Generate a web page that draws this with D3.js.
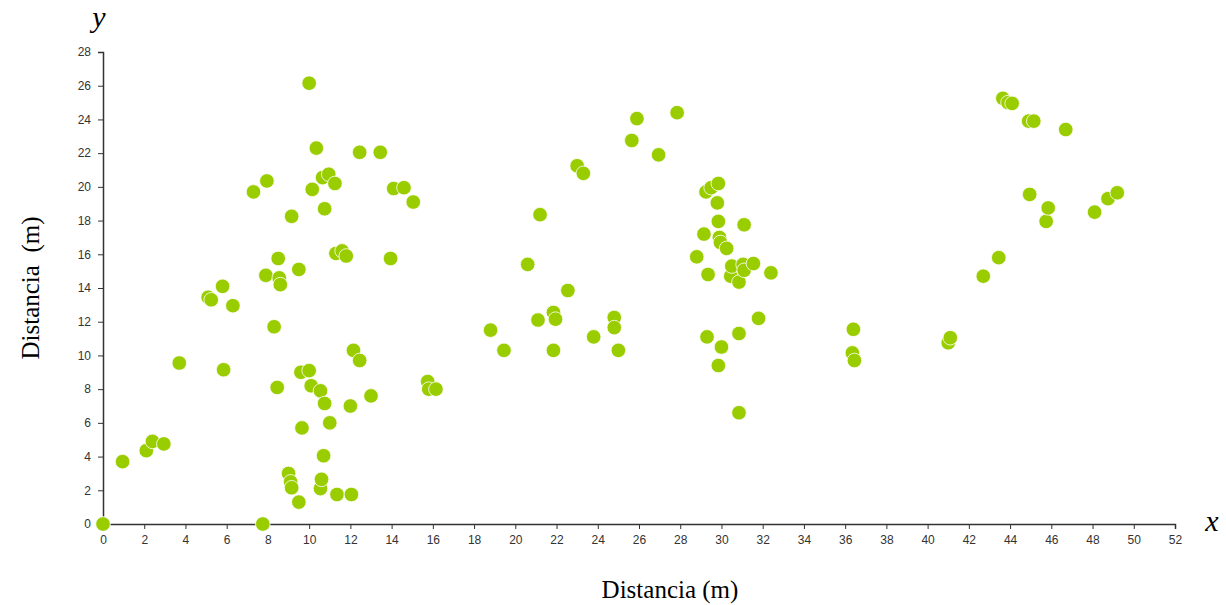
<!DOCTYPE html>
<html>
<head>
<meta charset="utf-8">
<script src="https://cdn.jsdelivr.net/npm/d3@7"></script>
<style>
  body { margin: 0; background: #fff; }
  .tick text { font-family: "Liberation Sans", Arial, sans-serif; font-size: 12px; fill: #333; }
  .domain, .tick line { stroke: #333; }
  .title { font-family: "Liberation Serif", "Times New Roman", serif; fill: #000; }
</style>
</head>
<body>
<div id="chart"></div>
<script>
// tick values
var xTicks = d3.range(0, 53, 2);
var yTicks = d3.range(0, 29, 2);

// point positions (distance in m)
var xValues = [
    0, 0.95, 2.1, 2.4, 2.95, 3.7, 5.1, 5.25, 5.8, 6.3, 5.85, 7.3, 7.95, 7.9, 8.3, 8.45, 7.75,
    8.5, 8.55, 8.6, 9.0, 9.1, 9.15, 9.5, 9.15, 9.5, 9.6, 9.65, 10.0, 10.0, 10.1, 10.15, 10.35,
    10.55, 10.6, 10.55, 10.65, 10.7, 10.75, 10.75, 10.95, 11.0, 11.25, 11.3, 11.35, 11.6, 11.8,
    12.0, 12.05, 12.15, 12.45, 12.45, 13.0, 13.45, 13.95, 14.1, 14.6, 15.05, 15.75, 15.8, 16.15,
    18.8, 19.45, 20.6, 21.1, 21.2, 21.85, 21.95, 21.85, 22.55, 23.0, 23.3, 23.8, 24.8, 24.8, 25.0,
    25.65, 25.9, 26.95, 27.85, 28.8, 29.15, 29.25, 29.3, 29.35, 29.5, 29.8, 29.85, 29.85, 29.85,
    29.9, 29.95, 30.0, 30.25, 30.45, 30.5, 30.85, 30.85, 30.85, 31.05, 31.1, 31.1, 31.55, 31.8, 32.4,
    36.4, 36.35, 36.45, 41.0, 41.1, 42.7, 43.45, 43.65, 43.9, 44.1, 44.9, 45.15, 44.95, 45.75,
    45.85, 46.7, 48.1, 48.75, 49.2
];
var yValues = [
    0, 3.7, 4.35, 4.9, 4.75, 9.55, 13.45, 13.3, 14.1, 12.95, 9.15, 19.7, 20.35, 14.75, 11.7, 8.1, 0,
    15.75, 14.6, 14.2, 3.0, 2.5, 2.15, 1.3, 18.25, 15.1, 9.0, 5.7, 26.15, 9.1, 8.2, 19.85, 22.3,
    2.1, 2.65, 7.9, 20.55, 4.05, 7.15, 18.7, 20.75, 6.0, 20.2, 16.05, 1.75, 16.2, 15.9,
    7.0, 1.75, 10.3, 22.05, 9.7, 7.6, 22.05, 15.75, 19.9, 19.95, 19.1, 8.45, 8.0, 8.0,
    11.5, 10.3, 15.4, 12.1, 18.35, 12.55, 12.15, 10.3, 13.85, 21.25, 20.8, 11.1, 12.25, 11.65, 10.3,
    22.75, 24.05, 21.9, 24.4, 15.85, 17.2, 19.7, 11.1, 14.8, 19.95, 19.05, 17.95, 9.4, 20.2,
    17.0, 16.7, 10.5, 16.35, 14.7, 15.3, 14.35, 11.3, 6.6, 15.4, 15.05, 17.75, 15.45, 12.2, 14.9,
    11.55, 10.15, 9.7, 10.75, 11.05, 14.7, 15.8, 25.25, 25.0, 24.95, 23.9, 23.9, 19.55, 17.95,
    18.75, 23.4, 18.5, 19.3, 19.65
];

var width = 1226,
    height = 605,
    margins = {top: 52, bottom: 81, left: 103, right: 51};

var svg = d3.select("#chart")
    .append("svg")
        .attr("width", width)
        .attr("height", height);

/* Scales */
var x = d3.scaleLinear()
    .domain([0, 52])
    .range([margins.left, width - margins.right]);
var y = d3.scaleLinear()
    .domain([0, 28])
    .range([height - margins.bottom, margins.top]);

/* Axes */
svg.append("g")
    .attr("transform", "translate(0," + y(0) + ")")
    .call(d3.axisBottom(x).tickValues(xTicks).tickSize(5).tickPadding(6).tickSizeOuter(5));
svg.append("g")
    .attr("transform", "translate(" + x(0) + ",0)")
    .call(d3.axisLeft(y).tickValues(yTicks).tickSize(5).tickPadding(7).tickSizeOuter(5));

svg.selectAll(".domain").attr("stroke-width", 1.5);

/* Points */
svg.append("g")
    .selectAll("circle")
    .data(d3.range(xValues.length))
    .enter()
    .append("circle")
        .attr("cx", function(i){ return x(xValues[i]); })
        .attr("cy", function(i){ return y(yValues[i]); })
        .attr("r", 7.3)
        .attr("fill", "#9acd00")
        .attr("stroke", "#ffffff")
        .attr("stroke-width", 0.8);

/* Titles */
svg.append("text")
    .attr("class", "title")
    .attr("x", 670)
    .attr("y", 598)
    .attr("text-anchor", "middle")
    .style("font-size", "25px")
    .text("Distancia (m)");
svg.append("text")
    .attr("class", "title")
    .attr("transform", "translate(39,288) rotate(-90)")
    .attr("text-anchor", "middle")
    .style("font-size", "25px")
    .style("white-space", "pre")
    .text("Distancia  (m)");
svg.append("text")
    .attr("class", "title")
    .attr("x", 99)
    .attr("y", 27)
    .attr("text-anchor", "middle")
    .style("font-size", "30px")
    .style("font-style", "italic")
    .text("y");
svg.append("text")
    .attr("class", "title")
    .attr("x", 1212)
    .attr("y", 531)
    .attr("text-anchor", "middle")
    .style("font-size", "30px")
    .style("font-style", "italic")
    .text("x");
</script>
</body>
</html>
